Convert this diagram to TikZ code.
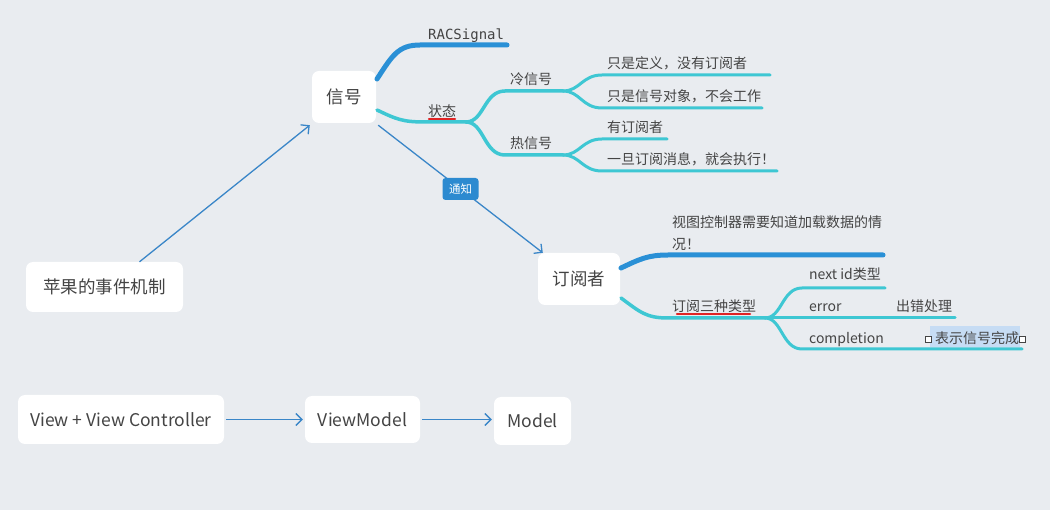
\documentclass[tikz,border=0pt]{standalone}
\usepackage{fontspec}
\setmainfont{Noto Sans CJK SC}
\newfontfamily\monof{DejaVu Sans Mono}
\usetikzlibrary{arrows.meta,calc}
\definecolor{bg}{HTML}{E9ECF0}
\definecolor{txt}{HTML}{444444}
\definecolor{bblue}{HTML}{2A90D6}
\definecolor{cyanc}{HTML}{3EC7D3}
\definecolor{ablue}{HTML}{3A86C8}
\definecolor{tagblue}{HTML}{2C8AD0}
\definecolor{uline}{HTML}{E02424}
\definecolor{hl}{HTML}{C6DCF4}
\tikzset{
  box/.style={fill=white, rounded corners=7pt, draw=none, text=txt, inner sep=0pt,
    font=\fontsize{17.5}{22}\selectfont},
  lbl/.style={anchor=base west, inner sep=0pt, text=txt, font=\fontsize{14}{22}\selectfont},
  bbr/.style={draw=bblue, line width=5pt, line cap=round},
  cbr/.style={draw=cyanc, line width=3.5pt, line cap=round},
  sbr/.style={draw=cyanc, line width=3pt, line cap=round},
  arr/.style={draw=ablue, line width=1.3pt, -{Straight Barb[length=6pt,width=12pt,line width=1.3pt]}},
  redu/.style={draw=uline, line width=2.5pt, line cap=round},
  tag/.style={fill=tagblue, text=white, rounded corners=3pt, inner sep=0pt,
    minimum width=36pt, minimum height=22pt, font=\fontsize{11.5}{13}\selectfont}
}
\begin{document}
\begin{tikzpicture}[x=1pt,y=-1pt]
\fill[bg] (0,0) rectangle (1050,510);
\useasboundingbox (0,0) rectangle (1050,510);

% boxes
\node[box, minimum width=64pt, minimum height=52pt] (sig) at (344,97) {信号};
\node[box, minimum width=157pt, minimum height=50pt] (apple) at (104.5,287) {苹果的事件机制};
\node[box, minimum width=82pt, minimum height=52pt] (sub) at (579,279) {订阅者};
\node[box, minimum width=206pt, minimum height=49pt] (vvc) at (121,419.5) {View + View Controller};
\node[box, minimum width=115pt, minimum height=47pt] (vm) at (362.5,419.5) {ViewModel};
\node[box, minimum width=77pt, minimum height=48pt] (model) at (532.5,421) {Model};

% arrows
\draw[arr] ([xshift=35pt]apple.north) -- ([xshift=-2pt,yshift=-2pt]sig.south west);
\draw[arr] ([xshift=2pt,yshift=-2pt]sig.south east) -- node[tag] (notify) {通知} ([xshift=5pt]sub.north west);
\draw[arr] ([xshift=2pt]vvc.east) -- ([xshift=-2pt]vm.west);
\draw[arr] ([xshift=2pt]vm.east) -- ([xshift=-2pt]vm.east -| model.west);

% coordinates
\coordinate (s1) at (377,79);
\coordinate (racE) at (507,45);
\coordinate (s2) at (377,110);
\coordinate (stJ) at (466,122);
\coordinate (coldJ) at (563,91);
\coordinate (hotJ) at (563,155);
\coordinate (c1E) at (770,75);
\coordinate (c2E) at (762,108);
\coordinate (h1E) at (667,139);
\coordinate (h2E) at (777,171);
\coordinate (u1) at (621,268);
\coordinate (vcE) at (883,255);
\coordinate (u2) at (621,298);
\coordinate (tJ) at (765,318);
\coordinate (nE) at (885,288);
\coordinate (eE) at (955,318);
\coordinate (cE) at (1022,349);

% signal branches
\draw[bbr] (s1) .. controls (392,56) and (398,45) .. (420,45) -- (racE);
\draw[cbr] (s2) .. controls (396,119) and (402,122) .. (425,122) -- (stJ);
\draw[cbr] (stJ) .. controls (484,122) and (484,91) .. (505,91) -- (coldJ);
\draw[cbr] (stJ) .. controls (484,122) and (484,155) .. (505,155) -- (hotJ);
\draw[sbr] (coldJ) .. controls (580,91) and (582,75) .. (602,75) -- (c1E);
\draw[sbr] (coldJ) .. controls (580,91) and (582,108) .. (602,108) -- (c2E);
\draw[sbr] (hotJ) .. controls (580,155) and (582,139) .. (602,139) -- (h1E);
\draw[sbr] (hotJ) .. controls (580,155) and (582,171) .. (602,171) -- (h2E);

% subscriber branches
\draw[bbr] (u1) .. controls (640,259) and (648,255) .. (668,255) -- (vcE);
\draw[cbr] (u2) .. controls (640,312) and (646,318) .. (668,318) -- (tJ);
\draw[sbr] (tJ) .. controls (782,318) and (782,288) .. (802,288) -- (nE);
\draw[sbr] (tJ) -- (eE);
\draw[sbr] (tJ) .. controls (782,318) and (782,349) .. (802,349) -- (cE);

% labels
\node[lbl, font=\monof\fontsize{14}{17}\selectfont] (rac) at (428,40) {RACSignal};
\node[lbl] (state) at (428,117) {状态};
\draw[redu] (429,119) -- (455,119);
\node[lbl] (cold) at (510,85) {冷信号};
\node[lbl] (hot) at (510,149) {热信号};
\node[lbl] (c1) at (607,69) {只是定义，没有订阅者};
\node[lbl] (c2) at (607,102) {只是信号对象，不会工作};
\node[lbl] (h1) at (607,133) {有订阅者};
\node[lbl] (h2) at (607,165) {一旦订阅消息，就会执行！};
\node[lbl, align=left] (vc) at (672,250) {视图控制器需要知道加载数据的情\\况！};
\node[lbl] (types) at (672,312) {订阅三种类型};
\draw[redu] (677,314) -- (750,314);
\node[lbl] (next) at (809,280) {next id类型};
\node[lbl] (err) at (809,312) {error};
\node[lbl] (errh) at (896,312) {出错处理};
\node[lbl] (comp) at (809,344) {completion};
\fill[hl] (930,326) rectangle (1020,347);
\node[lbl] (done) at (935,344) {表示信号完成};
\draw[txt, line width=0.8pt, fill=white] (925,336) rectangle (931,342);
\draw[txt, line width=0.8pt, fill=white] (1019,336) rectangle (1025,342);
\end{tikzpicture}
\end{document}
